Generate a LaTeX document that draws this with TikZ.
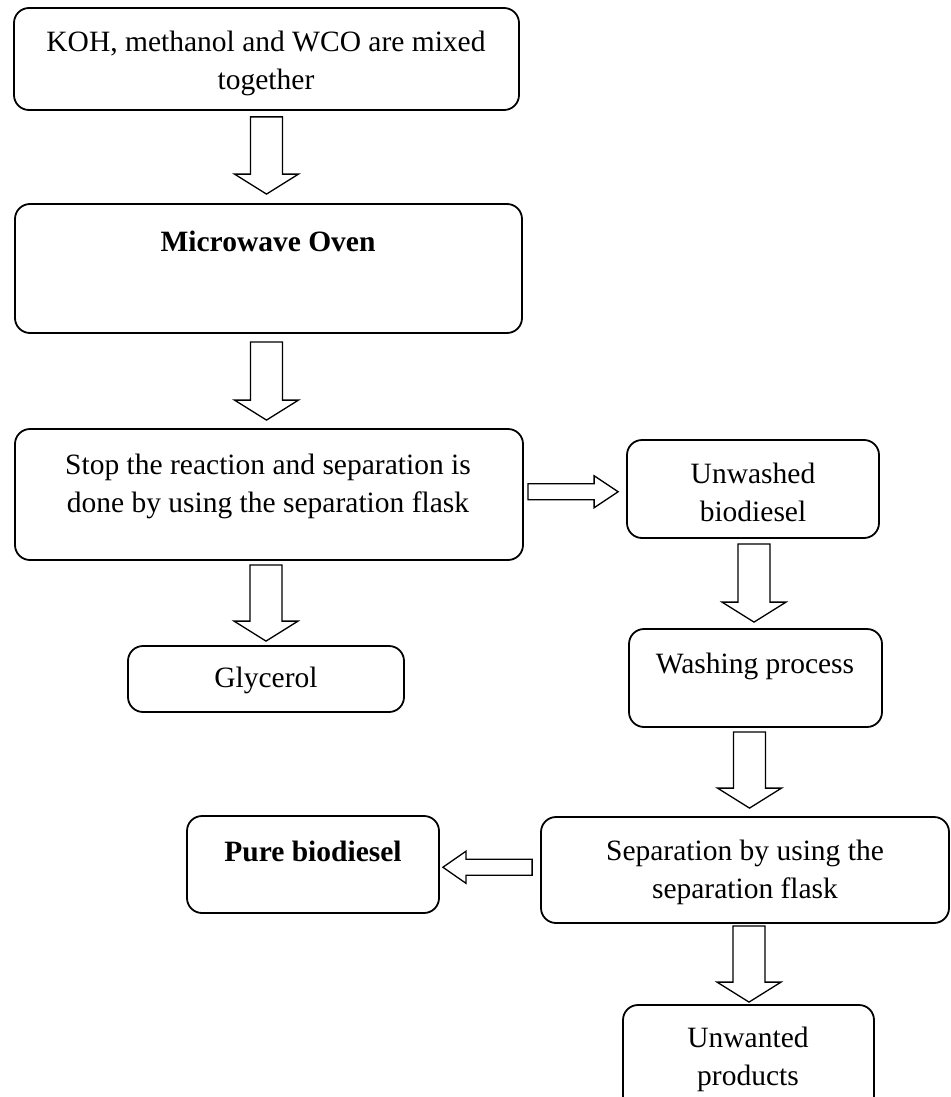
\documentclass[tikz,border=0pt]{standalone}
\usepackage{fontspec}
\setmainfont{Liberation Serif}
\usetikzlibrary{calc}
\tikzset{
  box/.style={draw, line width=1.8pt, rounded corners=15pt, inner sep=0pt},
  txt/.style={align=center, font=\fontsize{29.5}{38}\selectfont, inner sep=0pt},
  blk/.style={draw, line width=1.3pt, fill=white, line join=miter},
}
% down block arrow: from node, to node, xshift, top gap, tip gap
\newcommand\varrow[5]{%
  \draw[blk] let \p1=([xshift=#3]#1.south), \p2=(#2.north) in
  ({\x1-16pt},{\y1-#4}) -- ({\x1+16pt},{\y1-#4}) -- ({\x1+16pt},{\y2+#5+20pt})
  -- ({\x1+32pt},{\y2+#5+20pt}) -- (\x1,{\y2+#5}) -- ({\x1-32pt},{\y2+#5+20pt})
  -- ({\x1-16pt},{\y2+#5+20pt}) -- cycle;}
\begin{document}
\begin{tikzpicture}[x=1pt,y=-1pt]
\useasboundingbox (0,0) rectangle (950,1097);
\clip (0,0) rectangle (950,1097);
% boxes
\node[box, minimum width=505pt, minimum height=102pt] (B1) at (266.5,59) {};
\node[box, minimum width=507pt, minimum height=129pt] (B2) at (268.5,268.5) {};
\node[box, minimum width=508pt, minimum height=131pt] (B3) at (269,494.5) {};
\node[box, minimum width=252pt, minimum height=98pt] (B4) at (753,489) {};
\node[box, minimum width=276pt, minimum height=66pt] (B5) at (266,679) {};
\node[box, minimum width=253pt, minimum height=98pt] (B6) at (755.5,678) {};
\node[box, minimum width=408pt, minimum height=106pt] (B7) at (745,870) {};
\node[box, minimum width=252pt, minimum height=97pt] (B8) at (313,864.5) {};
\node[box, minimum width=251pt, minimum height=125pt] (B9) at (748.5,1067.5) {};
% texts
\node[txt] (T1) at (266,63) {KOH, methanol and WCO are mixed\\together};
\node[txt, font=\fontsize{29.5}{38}\selectfont\bfseries] (T2) at (268,241) {Microwave Oven};
\node[txt] (T3) at (268,486) {Stop the reaction and separation is\\done by using the separation flask};
\node[txt] (T4) at (753,492) {Unwashed\\biodiesel};
\node[txt] (T5) at (266,680) {Glycerol};
\node[txt] (T6) at (755,666) {Washing process};
\node[txt] (T7) at (745,872) {Separation by using the\\separation flask};
\node[txt, font=\fontsize{29.5}{38}\selectfont\bfseries] (T8) at (313,851) {Pure biodiesel};
\node[txt] (T9) at (748,1059) {Unwanted\\products};
% down arrows
\varrow{B1}{B2}{0pt}{6pt}{9pt}
\varrow{B2}{B3}{-2pt}{8pt}{8pt}
\varrow{B3}{B5}{-3pt}{4pt}{4pt}
\varrow{B4}{B6}{1pt}{5pt}{6pt}
\varrow{B6}{B7}{-6pt}{4pt}{8pt}
\varrow{B7}{B9}{4pt}{2pt}{2pt}
% right arrow B3 -> B4
\draw[blk] let \p1=(B3.east), \p2=(B4.west), \p3=($(B3.east)!0.5!(B4.west)$) in
  ({\x1+4pt},{\y3+8pt}) -- ({\x2-32pt},{\y3+8pt}) -- ({\x2-32pt},{\y3+16pt})
  -- ({\x2-8pt},\y3) -- ({\x2-32pt},{\y3-16pt}) -- ({\x2-32pt},{\y3-8pt})
  -- ({\x1+4pt},{\y3-8pt}) -- cycle;
% left arrow B7 -> B8
\draw[blk] let \p1=(B7.west), \p2=(B8.east), \p3=($(B7.west)!0.5!(B8.east)$) in
  ({\x1-8pt},{\y3+8pt}) -- ({\x2+26pt},{\y3+8pt}) -- ({\x2+26pt},{\y3+16pt})
  -- ({\x2+3pt},\y3) -- ({\x2+26pt},{\y3-16pt}) -- ({\x2+26pt},{\y3-8pt})
  -- ({\x1-8pt},{\y3-8pt}) -- cycle;
\end{tikzpicture}
\end{document}
